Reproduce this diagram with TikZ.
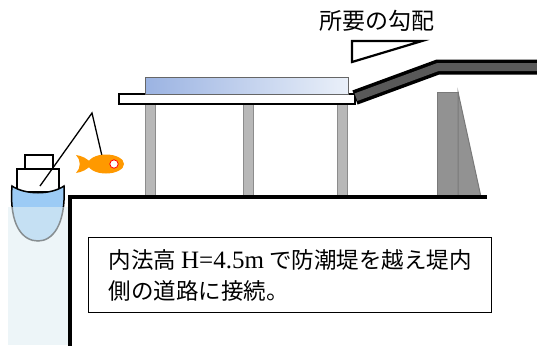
\documentclass[tikz,border=0pt]{standalone}
\usepackage{fontspec}
\setmainfont{Liberation Serif}
\newfontfamily\jpfont{Noto Sans CJK JP}
\definecolor{hullblue}{RGB}{156,203,245}
\definecolor{seawater}{RGB}{225,238,243}
\definecolor{fishorange}{RGB}{255,153,0}
\definecolor{rampgray}{RGB}{89,89,89}
\definecolor{piergray}{RGB}{184,184,184}
\definecolor{wallgray}{RGB}{146,146,146}
\definecolor{deckblue}{RGB}{155,179,226}
\definecolor{decklight}{RGB}{234,240,249}
\tikzset{
  pier/.style={fill=piergray,draw=gray!90,line width=1},
  wall/.style={fill=wallgray,draw=gray!95!black,line width=1},
  cabin/.style={fill=white,draw=black,line width=1.5},
  note/.style={draw=black,line width=1.2,fill=white,align=left,
    minimum width=403,minimum height=75,inner xsep=12,
    font=\fontsize{22.5}{31}\selectfont\jpfont}
}
\begin{document}
\begin{tikzpicture}[x=1pt,y=-1pt]
  \useasboundingbox (0,0) rectangle (537,345);
  % boat: cabin, hull and the fishing line
  \begin{scope}[every path/.style={cabin}]
    \path (25,155) rectangle (53,169);
    \path (17,169) rectangle (59,192);
  \end{scope}
  \draw[fill=hullblue,line width=1.5] (12,186) .. controls (25,195) and (51,195) .. (64,186)
    .. controls (66,226) and (52,241) .. (38,241)
    .. controls (23,241) and (9,226) .. (12,186) -- cycle;
  \coordinate (hook) at (40,186);
  \coordinate (tip) at (92,113);
  \coordinate (bait) at (102,156);
  \draw[line width=1.3] (hook) -- (tip) -- (bait);
  % sea water over the hull
  \fill[seawater,opacity=0.6] (8,207) rectangle (69,345);
  % fish
  \fill[fishorange] (106,164) ellipse [x radius=18,y radius=9.5];
  \fill[fishorange] (92,164) .. controls (87,158) and (82,156) .. (76,155)
    .. controls (81,160) and (81,168) .. (76,173)
    .. controls (82,172) and (87,170) .. (92,164) -- cycle;
  \draw[red,fill=white,line width=0.8] (114,164) circle [radius=4.2];
  % bridge piers, deck and pavement
  \foreach \px in {145,243,337}
    \path[pier] (\px,104) rectangle (\px+10,198);
  \draw[fill=white,line width=1.2] (119,94) rectangle (355,104);
  \draw[left color=deckblue,right color=decklight,draw=gray!80!black,line width=1]
    (145,77) rectangle (348,94);
  % ramp rising over the seawall
  \draw[line width=15,line join=miter] (355,97.5) -- (438,67) -- (545,67);
  \draw[rampgray,line width=8,line join=miter] (356,97.2) -- (438,67) -- (545,67);
  % seawall
  \path[wall] (437,92) rectangle (458,197);
  \path[wall] (458,92) -- (481,197) -- (458,197) -- cycle;
  % ground
  \draw[line width=4,line join=miter] (70,347) -- (70,197) -- (487,197);
  % slope mark and its label
  \draw[line width=2.2,line join=miter] (352,41) -- (422,41) -- (352,62) -- cycle;
  \node[font=\fontsize{23}{26}\selectfont\jpfont] (slope) at (377,21) {所要の勾配};
  % explanation
  \node[note,anchor=north west] (memo) at (88,237)
    {内法高 {\fontsize{25}{31}\selectfont\rmfamily H=4.5m} で防潮堤を越え堤内\\側の道路に接続。};
\end{tikzpicture}
\end{document}
